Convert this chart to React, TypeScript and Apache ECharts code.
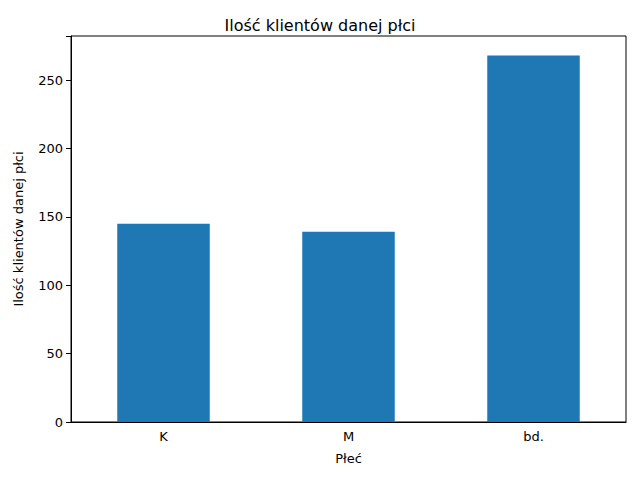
import React, { useEffect, useRef } from "react";
import * as echarts from "echarts";

const categories = ["K", "M", "bd."];
const counts = [145, 139, 268];
const yTicks = [0, 50, 100, 150, 200, 250];

const font = "DejaVu Sans";

export default function App() {
  const el = useRef<HTMLDivElement>(null);

  useEffect(() => {
    if (!el.current) return;
    const chart = echarts.init(el.current, null, { renderer: "svg" });
    chart.setOption({
      animation: false,
      backgroundColor: "#ffffff",
      textStyle: { fontFamily: font },
      title: {
        text: "Ilość klientów danej płci",
        left: "center",
        top: 12,
        textStyle: { fontFamily: font, fontSize: 16, fontWeight: "normal", color: "#000" },
      },
      grid: {
        left: 71,
        right: 14,
        top: 36,
        bottom: 58,
        show: true,
        borderColor: "#000",
        borderWidth: 1,
      },
      xAxis: {
        type: "category",
        data: categories,
        name: "Płeć",
        nameLocation: "middle",
        nameGap: 30,
        nameTextStyle: { fontFamily: font, fontSize: 13, color: "#000" },
        axisLine: { lineStyle: { color: "#000" } },
        axisTick: { alignWithLabel: true, length: 5, lineStyle: { color: "#000" } },
        axisLabel: { fontFamily: font, fontSize: 13, color: "#000", margin: 8 },
      },
      yAxis: {
        type: "value",
        min: 0,
        max: 282.2,
        interval: 50,
        name: "Ilość klientów danej płci",
        nameLocation: "middle",
        nameGap: 46,
        nameTextStyle: { fontFamily: font, fontSize: 13, color: "#000" },
        axisLine: { show: true, lineStyle: { color: "#000" } },
        axisTick: { show: true, length: 5, lineStyle: { color: "#000" } },
        splitLine: { show: false },
        axisLabel: {
          fontFamily: font,
          fontSize: 13,
          color: "#000",
          margin: 8,
          formatter: (v: number) => (yTicks.includes(v) ? String(v) : ""),
        },
      },
      series: [
        {
          type: "bar",
          data: counts,
          barWidth: "50%",
          itemStyle: { color: "#1f77b4" },
        },
      ],
    });
    return () => chart.dispose();
  }, []);

  return <div ref={el} style={{ width: 640, height: 480, margin: -8 }} />;
}
